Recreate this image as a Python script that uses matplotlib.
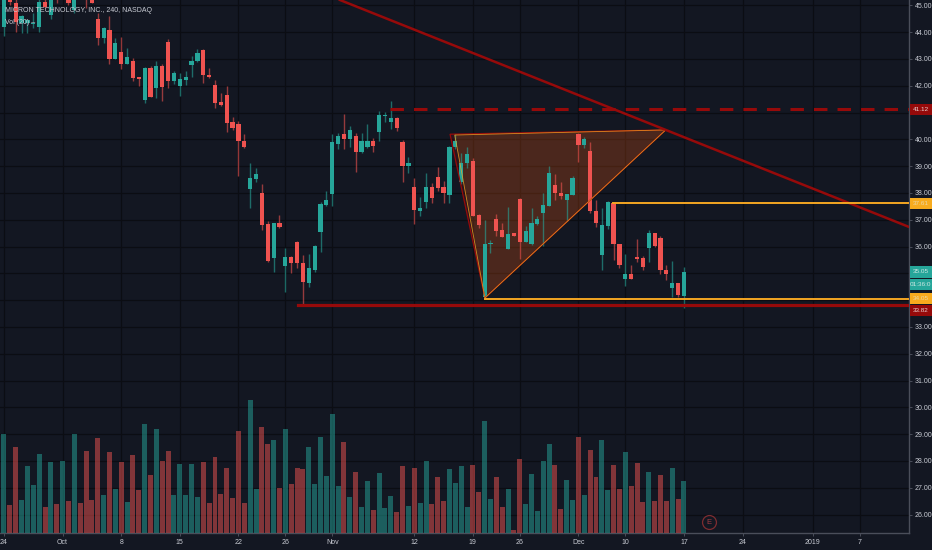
import matplotlib
matplotlib.use('Agg')
import matplotlib.pyplot as plt
from matplotlib.patches import Polygon, Rectangle
from matplotlib.transforms import blended_transform_factory
import numpy as np

# --------- Chart data ---------

opens = [44.18, 45.30, 45.10, 44.33, 44.35, 44.29, 44.20, 45.14, 44.62, 45.50,
         45.35, 45.30, 44.83, 45.60, 45.50, 45.25, 44.49, 43.79, 44.06, 43.00,
         43.27, 42.82, 42.92, 42.31, 41.48, 42.65, 41.92, 42.72, 43.63, 42.18,
         42.00, 42.21, 42.77, 42.91, 43.32, 42.41, 42.03, 41.39, 41.65, 40.63,
         40.56, 39.95, 38.13, 38.53, 38.00, 36.84, 35.58, 36.87, 35.27, 35.62,
         36.18, 35.40, 34.62, 35.12, 36.55, 37.54, 37.95, 39.82, 40.19, 40.02,
         40.11, 39.53, 39.70, 39.94, 40.27, 40.87, 40.63, 40.80, 39.91, 38.99,
         38.22, 37.34, 37.65, 38.22, 38.61, 38.22, 37.92, 39.70, 38.41, 39.10,
         39.19, 37.16, 34.10, 36.08, 37.01, 36.62, 35.92, 36.50, 37.76, 36.18,
         36.08, 36.85, 37.26, 37.52, 38.31, 38.01, 37.72, 37.92, 40.20, 39.79,
         39.55, 37.34, 35.67, 36.78, 37.61, 36.08, 34.79, 34.99, 35.61, 35.57,
         35.93, 36.50, 36.32, 35.11, 34.45, 34.63, 34.16]
highs = [45.40, 45.40, 45.40, 44.64, 44.48, 44.70, 45.26, 45.30, 45.40, 45.55,
         45.60, 45.40, 45.40, 45.70, 45.60, 45.40, 44.70, 44.18, 44.60, 43.77,
         43.83, 43.40, 43.02, 42.33, 42.71, 42.74, 42.92, 42.80, 43.73, 42.55,
         42.46, 42.55, 43.12, 43.36, 43.36, 42.65, 42.21, 41.72, 41.99, 40.85,
         40.68, 40.19, 39.10, 38.94, 38.32, 36.96, 36.89, 37.18, 35.93, 35.65,
         36.21, 35.68, 35.72, 36.06, 37.67, 38.07, 40.19, 40.22, 40.94, 40.51,
         40.25, 40.25, 40.57, 40.04, 41.04, 41.02, 41.43, 40.82, 39.97, 39.35,
         38.54, 37.86, 38.73, 38.38, 38.95, 38.44, 39.75, 40.19, 39.48, 39.70,
         39.31, 37.21, 36.99, 36.24, 37.21, 36.86, 37.49, 36.52, 37.80, 36.76,
         37.45, 37.14, 37.98, 39.00, 38.71, 38.40, 37.96, 38.63, 40.22, 40.07,
         39.89, 37.73, 37.45, 37.70, 37.64, 36.09, 35.72, 35.31, 36.28, 35.65,
         36.60, 36.52, 36.39, 35.30, 35.46, 34.64, 35.22]
lows = [43.87, 45.03, 44.02, 43.96, 43.96, 44.14, 44.02, 44.89, 44.48, 45.08,
        45.25, 45.01, 44.70, 45.30, 44.89, 45.10, 43.52, 43.58, 42.81, 42.99,
        42.61, 42.81, 42.19, 41.99, 41.34, 41.57, 41.53, 41.44, 41.93, 42.05,
        41.63, 42.04, 42.31, 42.90, 42.11, 42.28, 41.16, 41.26, 40.26, 40.35,
        38.64, 39.69, 37.43, 38.42, 36.62, 35.43, 35.06, 36.70, 34.31, 35.00,
        35.19, 33.85, 34.50, 35.06, 35.79, 37.50, 37.51, 39.64, 39.64, 39.73,
        38.77, 39.48, 39.68, 39.54, 39.95, 40.65, 40.38, 40.32, 38.41, 38.75,
        36.84, 37.14, 37.45, 37.61, 38.07, 37.61, 37.61, 39.63, 38.33, 38.94,
        37.14, 36.69, 34.10, 35.77, 36.39, 36.34, 35.91, 36.39, 35.55, 36.17,
        36.06, 36.79, 36.02, 37.51, 37.73, 37.76, 36.95, 37.91, 39.15, 39.69,
        37.25, 36.73, 35.12, 36.64, 35.50, 35.21, 34.54, 34.77, 35.42, 35.12,
        35.42, 35.99, 34.96, 34.75, 34.10, 34.10, 33.72]
closes = [45.26, 45.14, 44.39, 44.60, 44.45, 44.33, 45.14, 44.95, 45.24, 45.30,
          45.50, 45.10, 45.30, 45.40, 45.30, 45.10, 43.79, 44.14, 42.99, 43.58,
          42.80, 43.07, 42.30, 42.24, 42.65, 41.58, 42.72, 41.94, 42.19, 42.46,
          42.24, 42.33, 42.92, 43.21, 42.40, 42.31, 41.37, 41.27, 40.61, 40.41,
          39.94, 39.70, 38.56, 38.69, 36.82, 35.45, 36.87, 36.73, 35.62, 35.38,
          35.37, 34.69, 35.18, 36.03, 37.57, 37.73, 39.89, 40.11, 40.02, 40.33,
          39.53, 39.94, 39.94, 39.75, 40.89, 40.91, 40.78, 40.41, 38.99, 39.12,
          37.35, 37.45, 38.23, 37.82, 38.18, 38.00, 39.73, 39.92, 39.12, 39.45,
          37.15, 36.81, 36.11, 36.12, 36.58, 36.35, 36.45, 36.40, 36.18, 36.57,
          36.89, 37.03, 37.55, 38.74, 38.00, 37.88, 37.96, 38.56, 39.79, 40.02,
          37.32, 36.86, 36.79, 37.67, 36.09, 35.31, 34.99, 34.79, 35.55, 35.22,
          36.50, 36.02, 35.12, 34.99, 34.64, 34.18, 35.05]
volumes = [99, 28, 86, 33, 67, 48, 79, 26, 71, 29,
           72, 32, 99, 30, 82, 33, 95, 38, 81, 44,
           71, 31, 78, 43, 109, 58, 104, 72, 82, 38,
           69, 38, 69, 36, 71, 30, 76, 39, 65, 35,
           102, 30, 133, 44, 106, 89, 93, 45, 104, 49,
           65, 64, 86, 49, 96, 57, 119, 47, 91, 36,
           61, 26, 52, 23, 60, 25, 37, 21, 67, 27,
           65, 30, 72, 29, 56, 32, 64, 50, 67, 26,
           68, 41, 112, 34, 56, 26, 44, 3, 74, 29,
           59, 22, 72, 89, 68, 24, 53, 33, 96, 38,
           83, 56, 93, 43, 68, 44, 81, 47, 70, 31,
           61, 32, 58, 32, 65, 34, 52]

tick_bars = [0, 10, 20, 30, 40, 48, 56, 70, 80, 88, 98, 106, 116, 126, 138, 146]
tick_labels = ['24', 'Oct', '8', '15', '22', '26', 'Nov', '12', '19', '26', 'Dec', '10', '17', '24', '2019', '7']
price_ticks = list(range(26, 46))
covered_ticks = [34, 35, 41]  # sit under the coloured price labels

support = 33.82
resistance = 41.12
lower_box = 34.05
upper_box = 37.61
last_price = 35.05

# --------- Colours ---------

BG = '#131722'
GRID = '#0b0d13'
AXIS = '#4a4e5a'
TEXT = '#c8cbd3'
UP = '#26a69a'
DOWN = '#ef5350'
DARK_RED = '#960a0a'
ORANGE = '#f5a623'

plt.rcParams['font.family'] = ['Liberation Sans', 'DejaVu Sans']
FS = 5.0

# --------- Axes ---------

fig = plt.figure(figsize=(9.32, 5.5), dpi=100, facecolor=BG)
ax = fig.add_axes([0, 17 / 550, 909 / 932, 533 / 550], facecolor=BG)
ax.set_xlim(-0.68, 154.4)
ax.set_ylim(25.31, 45.198)

ax.set_xticks(tick_bars)
ax.set_xticklabels(tick_labels)
ax.set_yticks(price_ticks)
ax.set_yticklabels(['' if p in covered_ticks else f'{p:.2f}' for p in price_ticks])
ax.tick_params(axis='both', colors=AXIS, labelcolor=TEXT, labelsize=FS, length=2, width=0.7, pad=2)
ax.grid(True, color=GRID, linewidth=0.9)
ax.set_axisbelow(True)
for side in ['left', 'top']:
    ax.spines[side].set_visible(False)
for side in ['right', 'bottom']:
    ax.spines[side].set_color(AXIS)
    ax.spines[side].set_linewidth(1)

# --------- Candles ---------

bars = np.arange(len(opens))
o = np.array(opens)
c = np.array(closes)
colors = [UP if cl >= op else DOWN for op, cl in zip(opens, closes)]

ax.vlines(bars, lows, highs, colors=colors, linewidth=1.0, alpha=0.6, zorder=3)
ax.bar(bars, np.abs(c - o), bottom=np.minimum(o, c), width=0.72, color=colors, zorder=3.2)

# --------- Drawings ---------

ax.add_patch(Polygon([(76.9, 40.16), (112.9, 40.35), (82.05, 34.08)], closed=True,
                     facecolor=ORANGE, alpha=0.17, edgecolor='none', zorder=2.5))
ax.add_patch(Polygon([(76.1, 40.19), (112.9, 40.35), (82.05, 34.08)], closed=True,
                     facecolor=DARK_RED, alpha=0.2, edgecolor='none', zorder=2.6))
ax.add_patch(Polygon([(76.1, 40.19), (112.9, 40.35), (82.05, 34.08)], closed=True,
                     fill=False, edgecolor=DARK_RED, linewidth=0.9, zorder=4))
ax.add_patch(Polygon([(76.9, 40.16), (112.9, 40.35), (82.05, 34.08)], closed=True,
                     fill=False, edgecolor=ORANGE, linewidth=0.6, alpha=0.8, zorder=4.1))

ax.plot([57.3, 154.4], [45.2, 36.73], color=DARK_RED, linewidth=1.8, zorder=4.2)
ax.plot([65.8, 154.4], [resistance, resistance], color=DARK_RED, linewidth=2.2,
        dashes=(4.4, 3.3), zorder=4.2)
ax.plot([50.15, 154.4], [support, support], color=DARK_RED, linewidth=2.3, zorder=4.2)
ax.plot([82.05, 154.4], [lower_box, lower_box], color=ORANGE, linewidth=1.4, zorder=4.3)
ax.plot([103.9, 154.4], [upper_box, upper_box], color=ORANGE, linewidth=1.4, zorder=4.3)

# earnings marker
ax.plot([120.3], [25.72], marker='o', markersize=10, markerfacecolor='none',
        markeredgecolor='#7d2c30', markeredgewidth=0.9, zorder=5)
ax.text(120.3, 25.72, 'E', color='#a33d42', fontsize=5.5, ha='center', va='center', zorder=5)

# --------- Volume (on top of the grid, half transparent) ---------

vol_ax = ax.twinx()
vol_ax.set_ylim(0, 533)
vol_ax.axis('off')
vol_ax.patch.set_visible(False)
vol_ax.bar(bars, volumes, width=0.85, color=colors, alpha=0.5)
ax.yaxis.tick_right()  # twinx puts them back on the left

# --------- Price labels on the axis ---------

trans = blended_transform_factory(ax.transAxes, ax.transData)
axis_labels = [
    (resistance, '41.12', DARK_RED, '#e6d0d0'),
    (upper_box, '37.61', '#f7ab1e', '#e9d7a6'),
    (last_price, '35.05', UP, '#cfe8e4'),
    (34.58, '01:36:0', UP, '#cfe8e4'),
    (lower_box, '34.05', '#f7ab1e', '#e9d7a6'),
    (33.62, '33.82', DARK_RED, '#e6d0d0'),
]
for price, label, box_color, text_color in axis_labels:
    ax.add_patch(Rectangle((1.0015, price - 0.21), 24 / 909, 0.42, transform=trans,
                           facecolor=box_color, edgecolor='none', clip_on=False, zorder=6))
    ax.text(1 + 11.5 / 909, price, label, transform=trans, color=text_color, fontsize=FS - 0.4,
            ha='center', va='center', clip_on=False, zorder=7)

# --------- Header ---------

ax.text(5 / 909, 1 - 11 / 533, 'MICRON TECHNOLOGY, INC., 240, NASDAQ', transform=ax.transAxes,
        color=TEXT, fontsize=FS, ha='left', va='center', zorder=8)
ax.text(5 / 909, 1 - 23 / 533, 'Vol (20) \u2013', transform=ax.transAxes,
        color=TEXT, fontsize=FS, ha='left', va='center', zorder=8)

plt.savefig('out.png', dpi=100, facecolor=BG)
